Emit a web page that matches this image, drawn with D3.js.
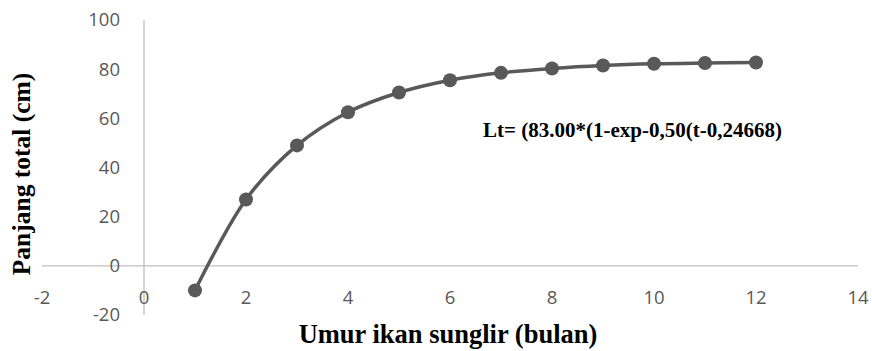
<!DOCTYPE html>
<html>
<head>
<meta charset="utf-8">
<script src="https://cdn.jsdelivr.net/npm/d3@7"></script>
<style>
  body { margin: 0; background: #fff; }
</style>
</head>
<body>
<div id="chart"></div>
<script>
// umur (bulan) and panjang total (cm)
const umur = [1, 2, 3, 4, 5, 6, 7, 8, 9, 10, 11, 12];
const panjang = [-10, 27, 49, 62.5, 70.5, 75.5, 78.5, 80.3, 81.5, 82.2, 82.5, 82.7];
const xTicks = [-2, 0, 2, 4, 6, 8, 10, 12, 14];
const yTicks = [-20, 0, 20, 40, 60, 80, 100];
const equation = "Lt= (83.00*(1-exp-0,50(t-0,24668)";

const width = 872, height = 351;
const svg = d3.select("#chart").append("svg")
  .attr("width", width)
  .attr("height", height);

const x = d3.scaleLinear().domain([-2, 14]).range([42, 858]);
const y = d3.scaleLinear().domain([-20, 100]).range([315, 20]);

const gridColor = "#bfbfbf";
const textColor = "#595959";
const serif = "'Liberation Serif', 'Times New Roman', serif";
const sans = "'Open Sans', 'Noto Sans', sans-serif";

// horizontal axis at y = 0
svg.append("line")
  .attr("x1", x(-2)).attr("x2", x(14))
  .attr("y1", y(0)).attr("y2", y(0))
  .attr("stroke", gridColor).attr("stroke-width", 1.3);

// vertical axis at x = 0
svg.append("line")
  .attr("x1", x(0)).attr("x2", x(0))
  .attr("y1", y(100)).attr("y2", y(-20))
  .attr("stroke", gridColor).attr("stroke-width", 1.3);

svg.selectAll("text.ytick").data(yTicks).enter()
  .append("text")
  .attr("class", "ytick")
  .attr("x", 120)
  .attr("y", d => y(d))
  .attr("dy", "0.35em")
  .attr("text-anchor", "end")
  .attr("fill", textColor)
  .attr("font-family", sans)
  .attr("font-size", "18.5px")
  .text(d => d);

svg.selectAll("text.xtick").data(xTicks).enter()
  .append("text")
  .attr("class", "xtick")
  .attr("x", d => x(d))
  .attr("y", 298)
  .attr("dy", "0.35em")
  .attr("text-anchor", "middle")
  .attr("fill", textColor)
  .attr("font-family", sans)
  .attr("font-size", "18.5px")
  .text(d => d);

const pts = umur.map((u, i) => [u, panjang[i]]);

const line = d3.line()
  .x(d => x(d[0]))
  .y(d => y(d[1]))
  .curve(d3.curveCatmullRom.alpha(0.5));

svg.append("path")
  .datum(pts)
  .attr("d", line)
  .attr("fill", "none")
  .attr("stroke", "#595959")
  .attr("stroke-width", 3.5);

svg.selectAll("circle").data(pts).enter()
  .append("circle")
  .attr("cx", d => x(d[0]))
  .attr("cy", d => y(d[1]))
  .attr("r", 7)
  .attr("fill", "#595959");

svg.append("text")
  .attr("x", 483)
  .attr("y", 137)
  .attr("font-family", serif)
  .attr("font-weight", "bold")
  .attr("font-size", "21px")
  .attr("fill", "#000")
  .text(equation);

svg.append("text")
  .attr("x", 448)
  .attr("y", 343)
  .attr("text-anchor", "middle")
  .attr("font-family", serif)
  .attr("font-weight", "bold")
  .attr("font-size", "26.5px")
  .attr("fill", "#000")
  .text("Umur ikan sunglir (bulan)");

svg.append("text")
  .attr("transform", "translate(30,174) rotate(-90)")
  .attr("text-anchor", "middle")
  .attr("font-family", serif)
  .attr("font-weight", "bold")
  .attr("font-size", "25.5px")
  .attr("fill", "#000")
  .text("Panjang total (cm)");
</script>
</body>
</html>
